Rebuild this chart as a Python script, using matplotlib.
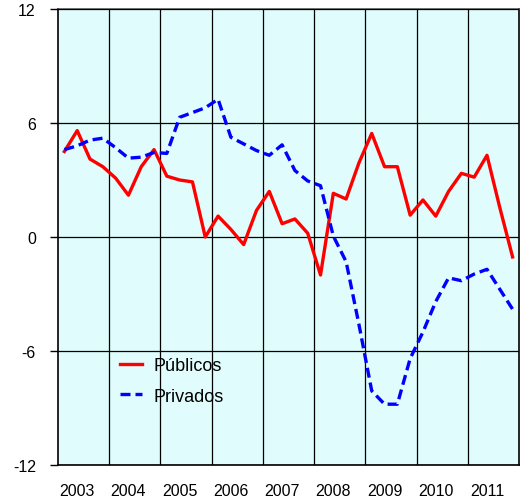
import numpy as np
import matplotlib
matplotlib.use('Agg')
import matplotlib.pyplot as plt

DPI = 100

YEARS = [2003, 2004, 2005, 2006, 2007, 2008, 2009, 2010, 2011]

# quarterly values, 2003Q1 .. 2011Q4
PUBLICOS = [4.5, 5.6, 4.1, 3.7, 3.1, 2.2, 3.7, 4.6,
            3.2, 3.0, 2.9, 0.0, 1.1, 0.4, -0.4, 1.4,
            2.4, 0.7, 0.95, 0.2, -2.0, 2.3, 2.0, 3.9,
            5.45, 3.7, 3.7, 1.15, 1.95, 1.1, 2.4, 3.35,
            3.15, 4.3, 1.55, -1.05]
PRIVADOS = [4.6, 4.8, 5.1, 5.2, 4.7, 4.15, 4.2, 4.45,
            4.4, 6.3, 6.55, 6.8, 7.25, 5.25, 4.9, 4.55,
            4.3, 4.85, 3.5, 2.95, 2.7, 0.05, -1.3, -4.6,
            -8.1, -8.8, -8.8, -6.4, -5.0, -3.4, -2.15, -2.3,
            -1.95, -1.7, -2.75, -3.8]

Y_TICKS = [-12, -6, 0, 6, 12]


def run():
    plt.rcParams['font.family'] = ['Liberation Sans', 'DejaVu Sans']
    fig = plt.figure(figsize=(5.2, 5.02), dpi=DPI)
    ax = fig.add_axes([58 / 520, 1 - 466 / 502, 461 / 520, 456 / 502])
    ax.set_facecolor('#e0fcfc')

    x = YEARS[0] + (np.arange(len(PUBLICOS)) + 0.5) / 4.0
    ax.plot(x, PUBLICOS, color='#ff0000', lw=2.4, label='Públicos', zorder=3)
    ax.plot(x, PRIVADOS, color='#0000ff', lw=2.4, dashes=(3.0, 1.5),
            label='Privados', zorder=3)

    ax.set_xlim(YEARS[0], YEARS[-1] + 1)
    ax.set_ylim(-12, 12)

    ax.set_xticks([y + 0.375 for y in YEARS])
    ax.set_xticklabels([str(y) for y in YEARS])
    ax.set_xticks(YEARS[1:], minor=True)
    ax.tick_params(axis='x', which='both', length=0, pad=13, labelsize=11.5)

    ax.set_yticks(Y_TICKS)
    ax.set_yticklabels([str(t) for t in Y_TICKS])
    ax.tick_params(axis='y', length=6, width=1, pad=10, labelsize=11.5)

    ax.grid(True, which='minor', axis='x', color='black', lw=0.9)
    ax.grid(True, which='major', axis='y', color='black', lw=0.9)
    ax.grid(False, which='major', axis='x')
    ax.set_axisbelow(False)

    for side in ['left', 'bottom', 'right']:
        ax.spines[side].set_linewidth(1.2)
        ax.spines[side].set_color('black')
    ax.spines['top'].set_color('#555555')
    ax.spines['top'].set_linewidth(1.2)

    ax.legend(loc='upper left', bbox_to_anchor=(0.099, 0.272), frameon=False,
              fontsize=13, handlelength=1.25, handletextpad=0.6,
              labelspacing=0.75)

    plt.savefig('out.png', dpi=DPI)


if __name__ == '__main__':
    run()
